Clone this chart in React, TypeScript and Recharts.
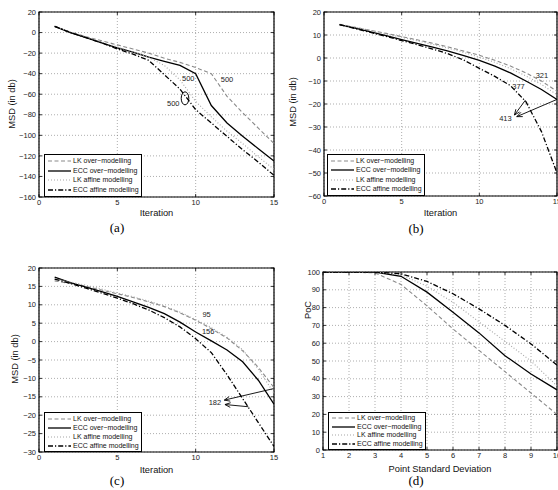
import React from "react";
import {
  LineChart,
  Line,
  XAxis,
  YAxis,
  CartesianGrid,
  ReferenceArea,
  ReferenceLine,
  ReferenceDot,
  Legend,
} from "recharts";

const FONT = '"Liberation Sans", Arial, Helvetica, sans-serif';
const SERIF = '"Liberation Serif", "Times New Roman", serif';

// x values
const iterations = [1, 2, 3, 4, 5, 6, 7, 8, 9, 10, 11, 12, 13, 14, 15];
const pointStd = [1, 2, 3, 4, 5, 6, 7, 8, 9, 10];

// (a)
const aLkOver = [6, 0.5, -4, -8, -12, -16, -20, -25, -29, -34, -40, -62, -78, -93, -108];
const aEccOver = [6, 0, -5, -10, -15, -19, -24, -28, -32, -40, -71, -88, -101, -113, -125];
const aLkAffine = [6, 0.5, -4, -9, -14, -19, -24, -32, -46, -67, -82, -96, -108, -121, -133];
const aEccAffine = [6, 0, -5, -10, -16, -21, -27, -41, -55, -75, -88, -101, -114, -126, -139];

// (b)
const bLkOver = [14.5, 13.3, 12, 10.7, 9.3, 7.9, 6.4, 4.8, 3, 1.2, -1, -3.5, -6.5, -10, -14.5];
const bEccOver = [14.5, 13, 11.4, 9.7, 8, 6.4, 4.7, 3, 1, -1, -3.5, -6.5, -10, -13.7, -18];
const bLkAffine = [14.7, 13.4, 12, 10.5, 9, 7.5, 5.9, 4.2, 2.4, 0.4, -1.9, -4.6, -7.8, -11.5, -16];
const bEccAffine = [14.5, 12.8, 11.1, 9.4, 7.6, 5.8, 3.9, 1.8, -0.9, -4.5, -8, -12, -19, -32, -50];

// (c)
const cLkOver = [16.5, 15.8, 15, 14, 13, 12, 10.8, 9.5, 7.8, 5.8, 3.5, 1, -2.5, -7, -12.5];
const cEccOver = [17.5, 16, 14.8, 13.6, 12.3, 10.8, 9.3, 7.6, 5.3, 2.6, 0.2, -2.3, -5.5, -10.5, -17];
const cLkAffine = [17, 16.2, 15.3, 14.3, 13.2, 12.2, 11, 9.7, 8, 6, 3.8, 1.2, -2.2, -7.5, -14];
const cEccAffine = [17, 15.8, 14.5, 13.2, 11.8, 10.3, 8.6, 6.5, 4, 0.8, -3, -9, -15.5, -22, -28.5];

// (d)
const dLkOver = [100, 100, 99.5, 93, 81, 68, 56, 44, 32, 20];
const dEccOver = [100, 100, 100, 97.6, 88.7, 77.4, 65.8, 53, 42.7, 33.8];
const dLkAffine = [100, 100, 100, 98.5, 92, 83, 72, 61, 50, 36];
const dEccAffine = [100, 100, 100, 99, 94.7, 87.8, 79.3, 70, 59.6, 47.7];

const seriesNames = [
  "LK over\u2212modelling",
  "ECC over\u2212modelling",
  "LK affine modelling",
  "ECC affine modelling",
];

// annotations (data coords)
const aLabels = [
  { x: 9.53, y: -44.5, text: "500" },
  { x: 12.0, y: -46, text: "500" },
  { x: 8.57, y: -68.8, text: "500" },
];
const bLabels = [
  { x: 14.03, y: -7.4, text: "321" },
  { x: 12.52, y: -12.5, text: "377" },
  { x: 11.68, y: -26.1, text: "413" },
];
const bArrows = [
  { from: [12.97, -18.3], to: [12.26, -24.8] },
  { from: [15, -18], to: [12.41, -25.5] },
];
const cLabels = [
  { x: 10.7, y: 7.4, text: "95" },
  { x: 10.8, y: 2.9, text: "156" },
  { x: 11.23, y: -16.6, text: "182" },
];
const cArrows = [
  { from: [14.95, -12.8], to: [11.83, -15.9] },
  { from: [13.36, -17.7], to: [11.87, -17.1] },
];

const SERIES = [
  { key: "lkOver", stroke: "#8a8a8a", dash: "4 2.5", width: 1.1 },
  { key: "eccOver", stroke: "#000", dash: undefined, width: 1.3 },
  { key: "lkAffine", stroke: "#a6a6a6", dash: "1 2", width: 1.1 },
  { key: "eccAffine", stroke: "#000", dash: "5 2 1.2 2", width: 1.3 },
];

const table = (xs: number[], a: number[], b: number[], c: number[], d: number[]) =>
  xs.map((x, i) => ({ x, lkOver: a[i], eccOver: b[i], lkAffine: c[i], eccAffine: d[i] }));

const range = (lo: number, hi: number, step: number) => {
  const out: number[] = [];
  for (let v = lo; v <= hi + 1e-9; v += step) out.push(v);
  return out;
};

const fmt = (v: number) => String(v).replace("-", "\u2212");

const W = 280;
const H = 245;

const LegendBox = ({ height }: { height: number }) => (
  <div
    style={{
      boxSizing: "border-box",
      width: 98,
      height,
      border: "1.4px solid #000",
      background: "#fff",
      padding: "1px 0 1px 3px",
      display: "flex",
      flexDirection: "column",
      justifyContent: "space-around",
      fontFamily: FONT,
      fontSize: 7,
      color: "#111",
      lineHeight: "8px",
    }}
  >
    {SERIES.map((s, i) => (
      <div key={s.key} style={{ display: "flex", alignItems: "center", whiteSpace: "nowrap" }}>
        <svg width={23} height={4} style={{ flex: "none" }}>
          <line x1={0} x2={23} y1={2} y2={2} stroke={s.stroke} strokeWidth={s.width} strokeDasharray={s.dash} />
        </svg>
        <span style={{ marginLeft: 2 }}>{seriesNames[i]}</span>
      </div>
    ))}
  </div>
);

const textNote = (n: { x: number; y: number; text: string }, i: number) => (
  <ReferenceDot
    key={"t" + i}
    x={n.x}
    y={n.y}
    r={0}
    ifOverflow="visible"
    shape={(p: any) => (
      <text x={p.cx} y={p.cy} dy="0.35em" textAnchor="middle" fontSize={7.5} fontFamily={FONT} fill="#222">
        {n.text}
      </text>
    )}
  />
);

const arrowNote = (a: { from: number[]; to: number[] }, i: number) => (
  <ReferenceLine
    key={"a" + i}
    segment={[
      { x: a.from[0], y: a.from[1] },
      { x: a.to[0], y: a.to[1] },
    ]}
    ifOverflow="visible"
    shape={(p: any) => {
      const { x1, y1, x2, y2 } = p;
      const ang = Math.atan2(y2 - y1, x2 - x1);
      const len = 6;
      const spread = 0.4;
      const hx1 = x2 - len * Math.cos(ang - spread);
      const hy1 = y2 - len * Math.sin(ang - spread);
      const hx2 = x2 - len * Math.cos(ang + spread);
      const hy2 = y2 - len * Math.sin(ang + spread);
      return (
        <g>
          <line x1={x1} y1={y1} x2={x2} y2={y2} stroke="#000" strokeWidth={0.9} />
          <polyline points={`${hx1},${hy1} ${x2},${y2} ${hx2},${hy2}`} fill="none" stroke="#000" strokeWidth={0.9} />
        </g>
      );
    }}
  />
);

type Box = { l: number; r: number; t: number; b: number };

type PanelProps = {
  left: number;
  top: number;
  box: Box;
  data: any[];
  xDomain: [number, number];
  xTicks: number[];
  yDomain: [number, number];
  yTicks: number[];
  xTitle: string;
  xTitleH: number;
  yTitle: string;
  yTitleAt: [number, number];
  legend: { left: number; top: number; height: number };
  notes?: React.ReactNode[];
};

const Panel = (p: PanelProps) => {
  const { box } = p;
  const [ytx, yty] = p.yTitleAt;
  const xTick = (t: any) => (
    <g>
      <line x1={t.x} x2={t.x} y1={box.b} y2={box.b - 3} stroke="#000" strokeWidth={0.8} />
      <line x1={t.x} x2={t.x} y1={box.t} y2={box.t + 3} stroke="#000" strokeWidth={0.8} />
      <text x={t.x} y={t.y} dy="0.71em" textAnchor="middle" fontSize={7.5} fontFamily={FONT} fill="#222">
        {fmt(t.payload.value)}
      </text>
    </g>
  );
  const yTick = (t: any) => (
    <g>
      <line x1={box.l} x2={box.l + 3} y1={t.y} y2={t.y} stroke="#000" strokeWidth={0.8} />
      <line x1={box.r} x2={box.r - 3} y1={t.y} y2={t.y} stroke="#000" strokeWidth={0.8} />
      <text x={t.x} y={t.y} dy="0.35em" textAnchor="end" fontSize={7.5} fontFamily={FONT} fill="#222">
        {fmt(t.payload.value)}
      </text>
    </g>
  );
  return (
    <div style={{ position: "absolute", left: p.left, top: p.top }}>
      <LineChart
        width={W}
        height={H}
        data={p.data}
        margin={{ top: box.t, right: W - box.r, left: 0, bottom: H - box.b - p.xTitleH }}
      >
        <CartesianGrid stroke="#777" strokeWidth={0.6} strokeDasharray="1 2" />
        <XAxis
          type="number"
          dataKey="x"
          domain={p.xDomain}
          ticks={p.xTicks}
          interval={0}
          allowDataOverflow
          axisLine={false}
          tickLine={false}
          tickSize={0}
          tickMargin={2.5}
          height={p.xTitleH}
          tick={xTick}
          label={{
            value: p.xTitle,
            position: "insideBottom",
            offset: 0,
            style: { fontSize: 9.3, fontFamily: FONT, fontWeight: 400, fill: "#111" },
          }}
        />
        <YAxis
          type="number"
          domain={p.yDomain}
          ticks={p.yTicks}
          interval={0}
          allowDataOverflow
          axisLine={false}
          tickLine={false}
          tickSize={0}
          tickMargin={3}
          width={box.l}
          tick={yTick}
          label={{
            content: () => (
              <text
                x={ytx}
                y={yty}
                dy="0.35em"
                transform={`rotate(-90, ${ytx}, ${yty})`}
                textAnchor="middle"
                fontSize={9.3}
                fontFamily={FONT}
                fill="#111"
              >
                {p.yTitle}
              </text>
            ),
          }}
        />
        {SERIES.map((s) => (
          <Line
            key={s.key}
            dataKey={s.key}
            type="linear"
            stroke={s.stroke}
            strokeWidth={s.width}
            strokeDasharray={s.dash}
            dot={false}
            activeDot={false}
            isAnimationActive={false}
          />
        ))}
        <ReferenceArea
          x1={p.xDomain[0]}
          x2={p.xDomain[1]}
          y1={p.yDomain[0]}
          y2={p.yDomain[1]}
          fill="none"
          stroke="#000"
          strokeWidth={1.2}
          ifOverflow="visible"
        />
        {p.notes}
        <Legend
          layout="horizontal"
          verticalAlign="middle"
          align="center"
          wrapperStyle={{ left: p.legend.left, top: p.legend.top, width: 98, height: p.legend.height }}
          content={() => <LegendBox height={p.legend.height} />}
        />
      </LineChart>
    </div>
  );
};

const Caption = ({ x, y, text }: { x: number; y: number; text: string }) => (
  <div
    style={{
      position: "absolute",
      left: x - 20,
      top: y - 7,
      width: 40,
      textAlign: "center",
      fontFamily: SERIF,
      fontSize: 13,
      lineHeight: "14px",
      color: "#000",
    }}
  >
    {text}
  </div>
);

export default function App() {
  return (
    <div style={{ position: "absolute", left: 0, top: 0, width: 558, height: 490, background: "#fff", overflow: "hidden" }}>
      <Panel
        left={0}
        top={0}
        box={{ l: 39, r: 274, t: 12, b: 197 }}
        data={table(iterations, aLkOver, aEccOver, aLkAffine, aEccAffine)}
        xDomain={[0, 15]}
        xTicks={[0, 5, 10, 15]}
        yDomain={[-160, 20]}
        yTicks={range(-160, 20, 20)}
        xTitle="Iteration"
        xTitleH={18.5}
        yTitle="MSD (in db)"
        yTitleAt={[12, 104]}
        legend={{ left: 44, top: 154, height: 43 }}
        notes={[
          ...aLabels.map(textNote),
          <ReferenceDot
            key="ell"
            x={9.32}
            y={-64}
            r={0}
            ifOverflow="visible"
            shape={(pp: any) => <ellipse cx={pp.cx} cy={pp.cy} rx={3.8} ry={6.5} fill="none" stroke="#000" strokeWidth={1} />}
          />,
        ]}
      />
      <Panel
        left={278}
        top={0}
        box={{ l: 46, r: 279, t: 12, b: 196 }}
        data={table(iterations, bLkOver, bEccOver, bLkAffine, bEccAffine)}
        xDomain={[0, 15]}
        xTicks={[0, 5, 10, 15]}
        yDomain={[-60, 20]}
        yTicks={range(-60, 20, 10)}
        xTitle="Iteration"
        xTitleH={19.5}
        yTitle="MSD (in db)"
        yTitleAt={[15, 102]}
        legend={{ left: 49, top: 154, height: 42 }}
        notes={[...bLabels.map(textNote), ...bArrows.map(arrowNote)]}
      />
      <Panel
        left={0}
        top={245}
        box={{ l: 39, r: 274, t: 23, b: 207 }}
        data={table(iterations, cLkOver, cEccOver, cLkAffine, cEccAffine)}
        xDomain={[0, 15]}
        xTicks={[0, 5, 10, 15]}
        yDomain={[-30, 20]}
        yTicks={range(-30, 20, 5)}
        xTitle="Iteration"
        xTitleH={20.5}
        yTitle="MSD (in db)"
        yTitleAt={[15, 114]}
        legend={{ left: 44, top: 167, height: 40 }}
        notes={[...cLabels.map(textNote), ...cArrows.map(arrowNote)]}
      />
      <Panel
        left={278}
        top={245}
        box={{ l: 45, r: 279, t: 27, b: 205 }}
        data={table(pointStd, dLkOver, dEccOver, dLkAffine, dEccAffine)}
        xDomain={[1, 10]}
        xTicks={range(1, 10, 1)}
        yDomain={[0, 100]}
        yTicks={range(0, 100, 10)}
        xTitle="Point Standard Deviation"
        xTitleH={21.5}
        yTitle="PoC"
        yTitleAt={[29.5, 65]}
        legend={{ left: 50, top: 167, height: 38 }}
      />
      <Caption x={117} y={228} text="(a)" />
      <Caption x={416} y={229} text="(b)" />
      <Caption x={117} y={481} text="(c)" />
      <Caption x={416} y={481} text="(d)" />
    </div>
  );
}
